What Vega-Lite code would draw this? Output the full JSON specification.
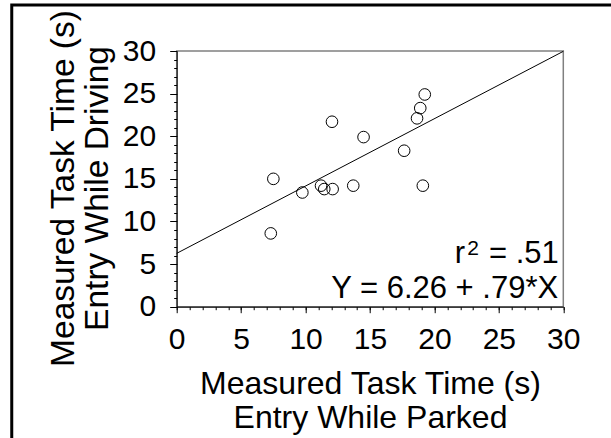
{
  "$schema": "https://vega.github.io/schema/vega-lite/v6.json",
  "width": 386.6,
  "height": 255.7,
  "autosize": {"type": "none"},
  "padding": {"left": 176.7, "top": 51, "right": 47.7, "bottom": 131.3},
  "background": "white",
  "config": {
    "font": "Liberation Sans",
    "view": {"stroke": "#808080", "strokeWidth": 1.5},
    "axis": {
      "grid": false,
      "labelFontSize": 30,
      "titleFontSize": 32,
      "titleFontWeight": "normal",
      "labelColor": "black",
      "titleColor": "black",
      "domainColor": "black",
      "tickColor": "black",
      "domainWidth": 1,
      "tickWidth": 1,
      "labelFlush": false,
      "labelOverlap": false,
      "labelBound": false,
      "titleLineHeight": 34
    }
  },
  "datasets": {
    "points": [
      {"parked": 7.3, "driving": 8.6},
      {"parked": 7.5, "driving": 15.0},
      {"parked": 9.75, "driving": 13.4},
      {"parked": 11.2, "driving": 14.2},
      {"parked": 11.45, "driving": 13.8},
      {"parked": 12.1, "driving": 13.8},
      {"parked": 12.05, "driving": 21.7},
      {"parked": 13.7, "driving": 14.2},
      {"parked": 14.5, "driving": 19.9},
      {"parked": 17.65, "driving": 18.3},
      {"parked": 18.65, "driving": 22.1},
      {"parked": 18.9, "driving": 23.3},
      {"parked": 19.25, "driving": 24.9},
      {"parked": 19.1, "driving": 14.2}
    ],
    "fit": [
      {"parked": 0, "driving": 6.26},
      {"parked": 30, "driving": 29.96}
    ],
    "frame": [
      {"x": -12.8, "x2": 60, "y": 35.4, "y2": -30}
    ],
    "notes": [
      {"t": "r", "x": 22.37, "y": 5.1},
      {"t": "= .51", "x": 29.65, "y": 5.1},
      {"t": "Y = 6.26 + .79*X", "x": 29.6, "y": 1.0}
    ],
    "sup": [
      {"t": "2", "x": 23.45, "y": 6.1}
    ]
  },
  "resolve": {"axis": {"x": "independent", "y": "independent"}},
  "layer": [
    {
      "data": {"name": "frame"},
      "mark": {"type": "rect", "fill": null, "stroke": "black", "strokeWidth": 3, "clip": false},
      "encoding": {
        "x": {"field": "x", "type": "quantitative", "scale": {"domain": [0, 30], "nice": false, "zero": false}, "axis": null},
        "x2": {"field": "x2"},
        "y": {"field": "y", "type": "quantitative", "scale": {"domain": [0, 30], "nice": false, "zero": false}, "axis": null},
        "y2": {"field": "y2"}
      }
    },
    {
      "data": {"name": "fit"},
      "mark": {"type": "line", "color": "black", "strokeWidth": 1},
      "encoding": {
        "x": {"field": "parked", "type": "quantitative", "scale": {"domain": [0, 30], "nice": false, "zero": false},
          "axis": {"orient": "bottom", "values": [0,1,2,3,4,5,6,7,8,9,10,11,12,13,14,15,16,17,18,19,20,21,22,23,24,25,26,27,28,29,30], "tickSize": 3, "labels": false, "domain": false, "title": null}},
        "y": {"field": "driving", "type": "quantitative", "scale": {"domain": [0, 30], "nice": false, "zero": false},
          "axis": {"orient": "left", "values": [0,1,2,3,4,5,6,7,8,9,10,11,12,13,14,15,16,17,18,19,20,21,22,23,24,25,26,27,28,29,30], "tickSize": 3, "labels": false, "domain": false, "title": null}}
      }
    },
    {
      "data": {"name": "points"},
      "mark": {"type": "point", "shape": "circle", "filled": false, "color": "black", "strokeWidth": 1, "size": 135, "opacity": 1},
      "encoding": {
        "x": {"field": "parked", "type": "quantitative", "scale": {"domain": [0, 30], "nice": false, "zero": false},
          "axis": {"orient": "bottom", "values": [0, 5, 10, 15, 20, 25, 30], "tickSize": 6, "labelPadding": 12, "titlePadding": 14,
            "title": ["Measured Task Time (s)", "Entry While Parked"]}},
        "y": {"field": "driving", "type": "quantitative", "scale": {"domain": [0, 30], "nice": false, "zero": false},
          "axis": {"orient": "left", "values": [0, 5, 10, 15, 20, 25, 30], "tickSize": 7, "labelPadding": 14, "titlePadding": 8, "titleY": 137, "titleFontSize": 33.5,
            "title": ["Measured Task Time (s)", "Entry While Driving"]}}
      }
    },
    {
      "data": {"name": "notes"},
      "mark": {"type": "text", "align": "right", "baseline": "alphabetic", "fontSize": 31, "color": "black"},
      "encoding": {
        "x": {"field": "x", "type": "quantitative", "scale": {"domain": [0, 30], "nice": false, "zero": false}, "axis": null},
        "y": {"field": "y", "type": "quantitative", "scale": {"domain": [0, 30], "nice": false, "zero": false}, "axis": null},
        "text": {"field": "t"}
      }
    },
    {
      "data": {"name": "sup"},
      "mark": {"type": "text", "align": "right", "baseline": "alphabetic", "fontSize": 21, "color": "black"},
      "encoding": {
        "x": {"field": "x", "type": "quantitative", "scale": {"domain": [0, 30], "nice": false, "zero": false}, "axis": null},
        "y": {"field": "y", "type": "quantitative", "scale": {"domain": [0, 30], "nice": false, "zero": false}, "axis": null},
        "text": {"field": "t"}
      }
    }
  ]
}
